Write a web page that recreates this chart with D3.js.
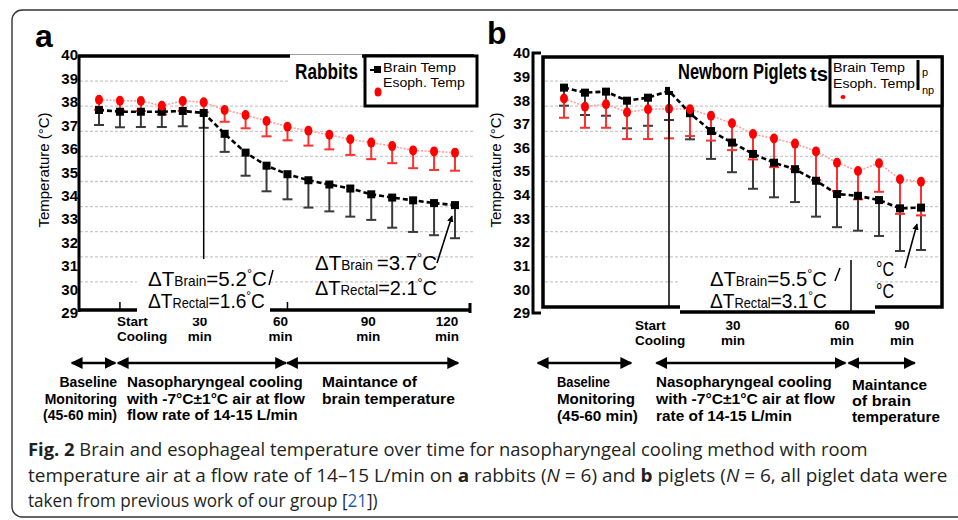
<!DOCTYPE html>
<html><head><meta charset="utf-8">
<script src="https://cdn.jsdelivr.net/npm/d3@7"></script>
<style>
html,body{margin:0;padding:0;background:#fff;}
svg{display:block;}
</style></head><body>
<svg id="fig" width="958" height="520"></svg>
<script>
// ---------------- data ----------------
const samples = [0,1,2,3,4,5,6,7,8,9,10,11,12,13,14,15,16,17];

const rabbitBrain   = [37.85,37.78,37.78,37.78,37.81,37.73,36.90,36.15,35.63,35.29,35.05,34.88,34.72,34.49,34.36,34.25,34.14,34.06];
const rabbitBrainSD = [0.60,0.62,0.61,0.61,0.61,0.59,0.72,0.92,1.02,1.00,1.09,1.07,1.12,1.02,1.20,1.26,1.28,1.32];
const rabbitEsoph   = [38.26,38.22,38.21,38.02,38.21,38.16,37.85,37.65,37.41,37.18,37.02,36.86,36.68,36.55,36.41,36.24,36.20,36.15];
const rabbitEsophSD = [0.40,0.40,0.40,0.35,0.40,0.40,0.47,0.53,0.61,0.54,0.59,0.58,0.62,0.66,0.68,0.71,0.74,0.72];

const pigletBrain   = [38.74,38.54,38.58,38.22,38.34,38.61,37.72,37.01,36.55,36.10,35.75,35.49,35.03,34.50,34.43,34.26,33.93,33.96];
const pigletBrainSD = [0.72,0.89,0.96,1.10,1.12,1.16,1.04,1.11,1.18,1.39,1.38,1.31,1.43,1.32,1.39,1.43,1.70,1.69];
const pigletEsoph   = [38.31,37.98,38.08,37.76,37.88,37.90,37.88,37.62,37.32,36.89,36.71,36.51,36.20,35.75,35.42,35.73,35.09,34.99];
const pigletEsophSD = [0.77,0.84,0.94,1.07,1.19,1.18,1.07,0.99,1.07,1.01,1.14,1.01,1.14,1.13,1.13,1.14,1.38,1.34];

const yTickLabels = [40,39,38,37,36,35,34,33,32,31,30,29];
const gridValues  = [39,38,37,36,35,34,33,32,31];

const rabbitTickSamples = [1,5,9,13,17];
const rabbitTickLabels  = [["Start","Cooling"],["30","min"],["60","min"],["90","min"],["120","min"]];
const pigletTickSamples = [4,8,13,16];
const pigletTickLabels  = [["Start","Cooling"],["30","min"],["60","min"],["90","min"]];

const phaseLabelsRabbit = [["Baseline","Monitoring","(45-60 min)"],
  ["Nasopharyngeal cooling","with -7°C±1°C  air at flow","flow rate of 14-15 L/min"],
  ["Maintance of","brain temperature"]];
const phaseLabelsPiglet = [["Baseline","Monitoring","(45-60 min)"],
  ["Nasopharyngeal cooling","with  -7°C±1°C  air at flow","rate of 14-15 L/min"],
  ["Maintance","of  brain","temperature"]];

// ---------------- drawing ----------------
const svg = d3.select("#fig");
const FONT = "'Liberation Sans', Arial, sans-serif";
const NARROW = "'Liberation Sans Narrow', 'Liberation Sans', Arial, sans-serif";

const defs = svg.append("defs");
defs.append("marker").attr("id","ah").attr("viewBox","0 0 10 10").attr("refX",9).attr("refY",5)
  .attr("markerWidth",5).attr("markerHeight",5).attr("orient","auto-start-reverse")
  .append("path").attr("d","M0,0 L10,5 L0,10 z").attr("fill","#000");
defs.append("marker").attr("id","ah2").attr("viewBox","0 0 10 10").attr("refX",9).attr("refY",5)
  .attr("markerWidth",4).attr("markerHeight",4).attr("orient","auto-start-reverse")
  .append("path").attr("d","M0,0 L10,5 L0,10 z").attr("fill","#000");

svg.append("rect").attr("x",12).attr("y",10).attr("width",970).attr("height",507).attr("rx",10)
  .attr("fill","none").attr("stroke","#333").attr("stroke-width",1.4);

// squeeze a text horizontally to a target width with a transform (keeps real text)
function fit(t, x, y, len) {
  t.attr("x",0).attr("y",0);
  const w = t.node().getComputedTextLength();
  const s = Math.min(1.15, len / w);
  t.attr("transform", `translate(${x},${y}) scale(${s},1)`);
  return t;
}

function txt(g, x, y, s, o = {}) {
  const t = g.append("text").attr("x",x).attr("y",y).text(s)
    .attr("font-family", o.family || FONT).attr("font-size", o.size || 14)
    .attr("font-weight", o.weight || "normal").attr("fill", o.fill || "#000")
    .attr("text-anchor", o.anchor || "start");
  if (o.len) fit(t, x, y, o.len);
  return t;
}

function deltaText(g, x, y, sub, val, len) {
  const t = g.append("text").attr("font-family",FONT).attr("fill","#000");
  t.append("tspan").attr("font-size",21).text("ΔT");
  t.append("tspan").attr("font-size",14).text(sub);
  t.append("tspan").attr("font-size",21).text("=" + val);
  t.append("tspan").attr("font-size",13).attr("dy",-8).text("°");
  t.append("tspan").attr("font-size",21).attr("dy",8).text("C");
  fit(t, x, y, len);
  return t;
}

function drawPanel(cfg) {
  const g = svg.append("g");
  const x = d3.scaleLinear().domain([0,17]).range(cfg.xRange);
  const y = d3.scaleLinear().domain([30,40]).range([307,56]);
  const yLab = d3.scaleLinear().domain([29,40]).range([313,cfg.labTop]);

  g.append("g").selectAll("line").data(gridValues).join("line")
    .attr("x1",cfg.gridX[0]).attr("x2",cfg.gridX[1]).attr("y1",d=>y(d)).attr("y2",d=>y(d))
    .attr("stroke","#c9c9c9").attr("stroke-width",1.3).attr("stroke-dasharray","3,2");

  const ax = g.append("g").attr("transform",`translate(${cfg.labX},0)`)
    .call(d3.axisLeft(yLab).tickValues(yTickLabels).tickSize(0).tickPadding(0).tickFormat(d3.format("d")));
  ax.select(".domain").remove();
  ax.selectAll("text").attr("font-family",FONT).attr("font-size",15).attr("font-weight","bold").attr("fill","#000");

  txt(g, 0, 0, "Temperature (°C)", {size:15, anchor:"middle"})
    .attr("transform",`translate(${cfg.yTitleX},170) rotate(-90)`);

  const pts = (vals, sd) => samples.map(i => ({i, v: vals[i], lo: vals[i] - sd[i]}));
  const brain = pts(cfg.brain, cfg.brainSD), esoph = pts(cfg.esoph, cfg.esophSD);

  function whiskers(data, color, w) {
    const wg = g.append("g").attr("stroke",color).attr("stroke-width",2);
    wg.selectAll("line.v").data(data).join("line").attr("class","v")
      .attr("x1",d=>x(d.i)).attr("x2",d=>x(d.i)).attr("y1",d=>y(d.v)).attr("y2",d=>y(d.lo));
    wg.selectAll("line.c").data(data).join("line").attr("class","c")
      .attr("x1",d=>x(d.i)-w).attr("x2",d=>x(d.i)+w).attr("y1",d=>y(d.lo)).attr("y2",d=>y(d.lo));
  }
  whiskers(brain, "#3a3a3a", 5);
  whiskers(esoph, "#ff3030", 5);

  const line = d3.line().x(d=>x(d.i)).y(d=>y(d.v));
  g.append("path").datum(esoph).attr("d",line).attr("fill","none")
    .attr("stroke","#ffa0a0").attr("stroke-width",1.6).attr("stroke-dasharray","2,1.5");
  g.append("path").datum(brain).attr("d",line).attr("fill","none")
    .attr("stroke","#000").attr("stroke-width",2.6).attr("stroke-dasharray","5,3");

  g.selectAll("rect.bm").data(brain).join("rect").attr("class","bm")
    .attr("x",d=>x(d.i)-4).attr("y",d=>y(d.v)-4).attr("width",8).attr("height",8).attr("fill","#000");
  g.selectAll("ellipse.em").data(esoph).join("ellipse").attr("class","em")
    .attr("cx",d=>x(d.i)).attr("cy",d=>y(d.v)).attr("rx",4).attr("ry",5).attr("fill","#ff0000");

  cfg.tickSamples.forEach((s, k) => {
    const lab = cfg.tickLabels[k];
    const isStart = k === 0;
    const xx = x(s) + cfg.tickDx[k];
    txt(g, xx, cfg.tickY[0], lab[0], {size:13.5, weight:"bold", anchor: isStart ? "start" : "middle"});
    txt(g, xx, cfg.tickY[1], lab[1], {size:13.5, weight:"bold", anchor: isStart ? "start" : "middle"});
  });

  cfg.arrows.forEach(a => {
    g.append("line").attr("x1",x(a[0])).attr("x2",x(a[1])).attr("y1",363).attr("y2",363)
      .attr("stroke","#000").attr("stroke-width",2.4)
      .attr("marker-start","url(#ah)").attr("marker-end","url(#ah)");
  });
  cfg.phaseText.forEach(p => {
    p.lines.forEach((s, k) => {
      txt(g, p.x, p.y[k], s, {size:14, weight:"bold", anchor: p.anchor || "start", len: p.len ? p.len[k] : null});
    });
  });
  return {g, x, y};
}

// ---------------- panel a: rabbits ----------------
const A = drawPanel({
  xRange:[99,455], labTop:55, labX:78, yTitleX:49, gridX:[80,474],
  brain:rabbitBrain, brainSD:rabbitBrainSD, esoph:rabbitEsoph, esophSD:rabbitEsophSD,
  tickSamples:rabbitTickSamples, tickLabels:rabbitTickLabels, tickDx:[-3,-4,-7,-3,-8], tickY:[326,341],
  arrows:[[-1.3,0.78],[0.9,8.93],[8.98,17.15]],
  phaseText:[
    {x:117, y:[387,404,420], anchor:"end", lines:phaseLabelsRabbit[0]},
    {x:127, y:[387,404,420], lines:phaseLabelsRabbit[1], len:[176,178,171]},
    {x:322, y:[387,404], lines:phaseLabelsRabbit[2], len:[95,133]}
  ]
});
{
  const g = A.g;
  const fr = g.append("g").attr("stroke","#000").attr("fill","none");
  fr.append("line").attr("x1",79).attr("x2",79).attr("y1",55).attr("y2",312).attr("stroke-width",3);
  fr.append("line").attr("x1",78).attr("x2",474).attr("y1",56).attr("y2",56).attr("stroke-width",3.5);
  fr.append("line").attr("x1",78).attr("x2",471).attr("y1",310).attr("y2",310).attr("stroke-width",3.5);
  fr.append("line").attr("x1",470).attr("x2",470).attr("y1",303).attr("y2",313).attr("stroke-width",3);
  [1,9].forEach(s => fr.append("line").attr("x1",A.x(s)).attr("x2",A.x(s)).attr("y1",302).attr("y2",310).attr("stroke-width",1.5));
  g.append("rect").attr("x",290).attr("y",54.5).attr("width",72).attr("height",36).attr("fill","#fff");
  txt(g, 295, 79, "Rabbits", {size:22, weight:"bold", family:NARROW, len:63});
  g.append("rect").attr("x",365).attr("y",56).attr("width",112).attr("height",50).attr("fill","#fff")
    .attr("stroke","#000").attr("stroke-width",3);
  g.append("line").attr("x1",370).attr("x2",378).attr("y1",70).attr("y2",70).attr("stroke","#000").attr("stroke-width",2);
  g.append("rect").attr("x",374).attr("y",66).attr("width",7).attr("height",7).attr("fill","#000");
  txt(g, 383, 72, "Brain Temp", {size:13, len:73});
  txt(g, 383, 87, "Esoph. Temp", {size:13, len:82});
  g.append("ellipse").attr("cx",378).attr("cy",92).attr("rx",3.5).attr("ry",4.5).attr("fill","#ff0000");
  g.append("line").attr("x1",A.x(5)).attr("x2",A.x(5)).attr("y1",A.y(rabbitBrain[5])).attr("y2",259)
    .attr("stroke","#000").attr("stroke-width",1.5);
  g.append("rect").attr("x",137).attr("y",260).attr("width",133).attr("height",58).attr("fill","#fff");
  deltaText(g, 148, 286, "Brain", "5.2", 119);
  g.append("line").attr("x1",269).attr("y1",285).attr("x2",273).attr("y2",270).attr("stroke","#000").attr("stroke-width",1.5);
  deltaText(g, 148, 308, "Rectal", "1.6", 117);
  deltaText(g, 315, 270, "Brain ", "3.7", 122);
  deltaText(g, 315, 295, "Rectal", "2.1", 122);
  g.append("line").attr("x1",437).attr("y1",263).attr("x2",452).attr("y2",216)
    .attr("stroke","#000").attr("stroke-width",1.6).attr("marker-end","url(#ah2)");
  txt(g, 35, 47, "a", {size:32, weight:"bold"});
}

// ---------------- panel b: piglets ----------------
const B = drawPanel({
  xRange:[564,921], labTop:53, labX:530, yTitleX:501, gridX:[545,940],
  brain:pigletBrain, brainSD:pigletBrainSD, esoph:pigletEsoph, esophSD:pigletEsophSD,
  tickSamples:pigletTickSamples, tickLabels:pigletTickLabels, tickDx:[-13,1,5,2], tickY:[330,345],
  arrows:[[-1.25,3.2],[4.4,13.4],[13.55,16.7]],
  phaseText:[
    {x:557, y:[387,404,421], lines:phaseLabelsPiglet[0], len:[53,78,81]},
    {x:656, y:[387,404,421], lines:phaseLabelsPiglet[1], len:[176,179,136]},
    {x:852, y:[390,406,422], lines:phaseLabelsPiglet[2], len:[75,63,88]}
  ]
});
{
  const g = B.g;
  const fr = g.append("g").attr("stroke","#000").attr("fill","none");
  fr.append("rect").attr("x",543).attr("y",57).attr("width",399).attr("height",250).attr("stroke-width",3.5);
  fr.append("path").attr("d","M541,53 H533 V313 H541").attr("stroke-width",3);
  g.append("rect").attr("x",670).attr("y",59).attr("width",160).attr("height",32).attr("fill","#fff");
  txt(g, 678, 79, "Newborn Piglets", {size:22, weight:"bold", family:NARROW, len:129});
  txt(g, 810, 81, "ts", {size:20, weight:"bold", family:NARROW, len:18});
  g.append("rect").attr("x",830).attr("y",57).attr("width",112).attr("height",49).attr("fill","#fff")
    .attr("stroke","#000").attr("stroke-width",3);
  txt(g, 833, 72, "Brain Temp", {size:12.5, len:72});
  txt(g, 833, 88, "Esoph. Temp", {size:12.5, len:82});
  g.append("line").attr("x1",918).attr("x2",918).attr("y1",60).attr("y2",90).attr("stroke","#000").attr("stroke-width",3);
  txt(g, 922, 76, "p", {size:11});
  txt(g, 922, 94, "np", {size:11});
  g.append("ellipse").attr("cx",843).attr("cy",97).attr("rx",2.5).attr("ry",2).attr("fill","#ff0000");
  g.append("line").attr("x1",B.x(5)).attr("x2",B.x(5)).attr("y1",B.y(pigletBrain[5])).attr("y2",307)
    .attr("stroke","#000").attr("stroke-width",1.5);
  // visible fragments of a second, mostly covered annotation
  txt(g, 876, 276, "°C", {size:19.5, len:18});
  txt(g, 876, 298, "°C", {size:19.5, len:18});
  g.append("rect").attr("x",680).attr("y",258).attr("width",195).attr("height",58).attr("fill","#fff");
  g.append("line").attr("x1",680).attr("x2",875).attr("y1",312).attr("y2",312).attr("stroke","#000").attr("stroke-width",3.5);
  g.append("line").attr("x1",851).attr("x2",851).attr("y1",260).attr("y2",312).attr("stroke","#000").attr("stroke-width",1.5);
  deltaText(g, 710, 286, "Brain", "5.5", 117);
  g.append("line").attr("x1",835).attr("y1",281).attr("x2",840).attr("y2",268).attr("stroke","#000").attr("stroke-width",1.5);
  deltaText(g, 710, 308, "Rectal", "3.1", 117);
  g.append("line").attr("x1",905).attr("y1",268).attr("x2",917).attr("y2",224)
    .attr("stroke","#000").attr("stroke-width",1.6).attr("marker-end","url(#ah2)");
  txt(g, 487, 44, "b", {size:32, weight:"bold"});
}

// ---------------- caption ----------------
{
  const CF = "'Open Sans', 'Noto Sans', sans-serif";
  const c = svg.append("g").attr("font-family",CF).attr("font-size",17.5).attr("fill","#231f20");
  const l1 = c.append("text");
  l1.append("tspan").attr("font-weight","bold").text("Fig. 2");
  l1.append("tspan").text(" Brain and esophageal temperature over time for nasopharyngeal cooling method with room");
  fit(l1, 28, 456, 840);
  const l2 = c.append("text");
  l2.append("tspan").text("temperature air at a flow rate of 14–15 L/min on ");
  l2.append("tspan").attr("font-weight","bold").text("a");
  l2.append("tspan").text(" rabbits (");
  l2.append("tspan").attr("font-style","italic").text("N");
  l2.append("tspan").text(" = 6) and ");
  l2.append("tspan").attr("font-weight","bold").text("b");
  l2.append("tspan").text(" piglets (");
  l2.append("tspan").attr("font-style","italic").text("N");
  l2.append("tspan").text(" = 6, all piglet data were");
  fit(l2, 28, 481.5, 920);
  const l3 = c.append("text");
  l3.append("tspan").text("taken from previous work of our group [");
  l3.append("tspan").attr("fill","#1a5fb4").text("21");
  l3.append("tspan").text("])");
  fit(l3, 28, 507, 350);
}
</script>
</body></html>
